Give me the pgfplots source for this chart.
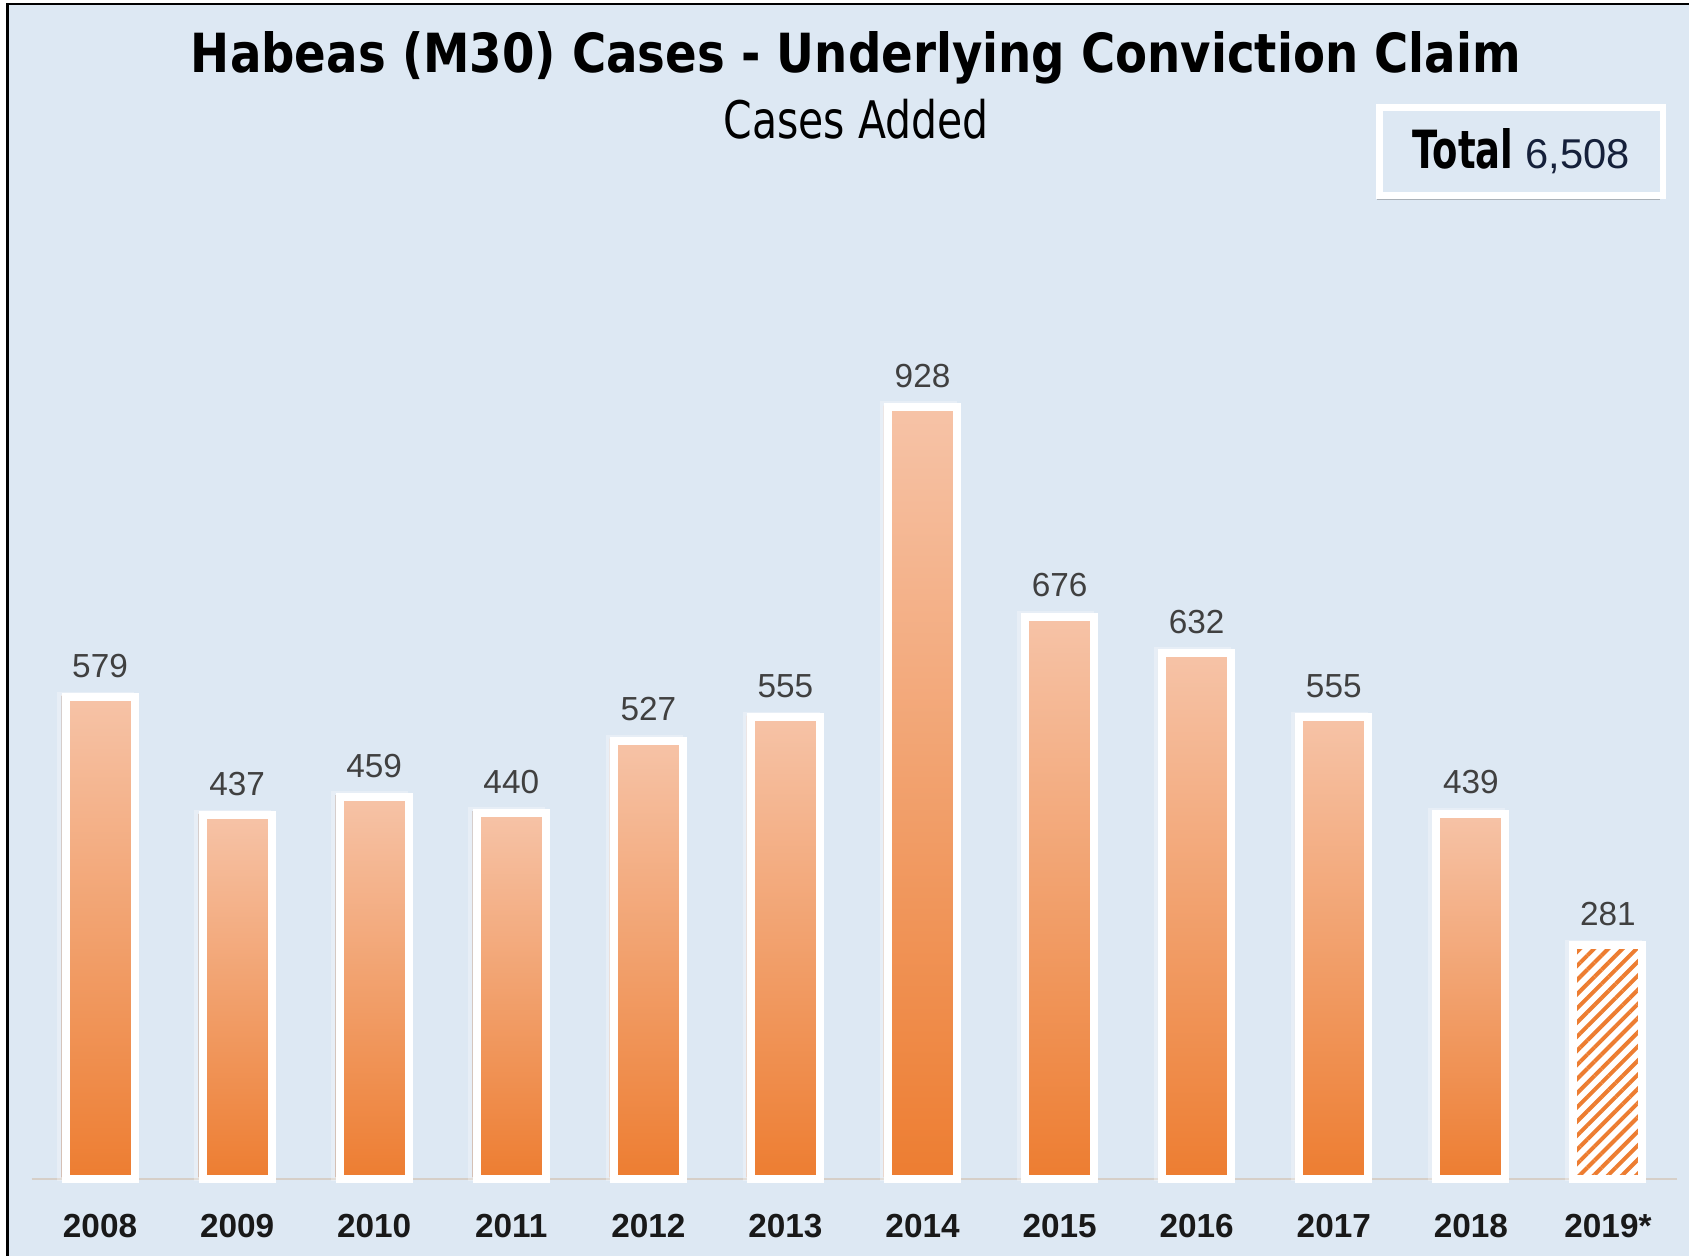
\documentclass[border=0pt]{standalone}
\usepackage{pgfplots}
\pgfplotsset{compat=1.18}
\usepackage{fontspec}
\setmainfont{Liberation Sans}
\newfontfamily\djv{DejaVu Sans}
\usetikzlibrary{shadows,patterns.meta}
\definecolor{bgblue}{HTML}{DDE8F3}
\definecolor{barorange}{HTML}{ED7D31}
\definecolor{barlight}{HTML}{F6C3A7}
\definecolor{valgray}{HTML}{404040}
\definecolor{axisgray}{HTML}{D6CFC8}
\definecolor{navy}{HTML}{15203A}

\pgfplotsset{
  orangebar/.style={ybar, draw=white, line width=2.4pt,
    drop shadow={shadow xshift=-1.3pt, shadow yshift=0.5pt, fill=black!70, opacity=0.3},
    top color=barlight, bottom color=barorange},
}

\begin{document}
\begin{tikzpicture}
  % page and backdrop
  \fill[white] (-9.45pt,-23.1pt) rectangle (497.25pt,353.7pt);
  \fill[bgblue] (-7.2pt,-23.1pt) rectangle (497.25pt,352.5pt);
  \draw[black,line width=0.7pt] (-7.2pt,-23.1pt) -- (-7.2pt,352.5pt) -- (497.25pt,352.5pt);

  \begin{axis}[
      scale only axis,
      width=493.5pt, height=353.7pt,
      xmin=-0.5, xmax=11.5, ymin=0, ymax=1417,
      hide y axis,
      axis x line*=bottom,
      axis line style={draw=axisgray, line width=0.6pt, -},
      xtick={0,...,11},
      xticklabels={2008,2009,2010,2011,2012,2013,2014,2015,2016,2017,2018,2019*},
      major tick length=0pt,
      xticklabel style={font=\bfseries\fontsize{10}{12}\selectfont, text=black!90, yshift=-7pt},
      ybar, bar width=20.7pt, bar shift=0pt,
      clip=false,
      /pgf/number format/assume math mode=true,
      nodes near coords,
      every node near coord/.append style={font=\fontsize{10}{12}\selectfont, text=valgray, yshift=1.3pt},
    ]
    % one plot per bar so each bar gets its own gradient
    \addplot[orangebar] coordinates {(0,579)};
    \addplot[orangebar] coordinates {(1,437)};
    \addplot[orangebar] coordinates {(2,459)};
    \addplot[orangebar] coordinates {(3,440)};
    \addplot[orangebar] coordinates {(4,527)};
    \addplot[orangebar] coordinates {(5,555)};
    \addplot[orangebar] coordinates {(6,928)};
    \addplot[orangebar] coordinates {(7,676)};
    \addplot[orangebar] coordinates {(8,632)};
    \addplot[orangebar] coordinates {(9,555)};
    \addplot[orangebar] coordinates {(10,439)};
    % 2019 is partial: hatched
    \addplot[ybar, draw=white, line width=2.4pt,
      drop shadow={shadow xshift=-1.3pt, shadow yshift=0.5pt, fill=black!70, opacity=0.3},
      preaction={fill=white},
      pattern={Lines[angle=45, distance=3pt, line width=1.2pt]}, pattern color=barorange]
      coordinates {(11,281)};
  \end{axis}

  % titles
  \node[anchor=base, inner sep=0pt] at (247.35pt,331.8pt)
    {\resizebox{399pt}{12.3pt}{\djv\bfseries Habeas (M30) Cases - Underlying Conviction Claim}};
  \node[anchor=base, inner sep=0pt] at (247.35pt,312pt)
    {\resizebox{79.5pt}{11.8pt}{\djv Cases Added}};

  % total box
  \node[draw=white, line width=2pt, fill=bgblue, minimum width=85pt, minimum height=26.5pt,
        drop shadow={shadow xshift=-0.8pt, shadow yshift=-1.2pt, fill=black!70, opacity=0.35}]
    at (446.9pt,308.25pt)
    {\resizebox{30.3pt}{12pt}{\djv\bfseries Total}\hspace{3.6pt}{\fontsize{12.5}{15}\selectfont\color{navy}6,508}};

  \pgfresetboundingbox
  \useasboundingbox (-9.45pt,-23.1pt) rectangle (497.25pt,353.7pt);
\end{tikzpicture}
\end{document}
